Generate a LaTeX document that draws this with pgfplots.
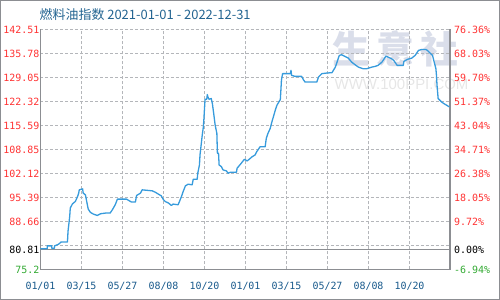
\documentclass[border=0pt]{standalone}
\usepackage{pgfplots}
\pgfplotsset{compat=1.18}
\usepackage{fontspec}
\setmainfont{Liberation Sans}
\newfontfamily\cjk{Noto Sans CJK SC}
\newfontfamily\monof{DejaVu Sans Mono}
\definecolor{titleblue}{RGB}{35,100,145}
\definecolor{xlabblue}{RGB}{25,90,140}
\definecolor{tred}{RGB}{255,51,51}
\definecolor{tgreen}{RGB}{51,170,51}
\definecolor{axgray}{RGB}{140,142,146}
\definecolor{gridgray}{RGB}{180,182,186}
\definecolor{linecol}{RGB}{55,155,220}
\definecolor{wmark}{RGB}{218,222,234}
\definecolor{wmark2}{RGB}{230,230,230}
\begin{document}
\begin{tikzpicture}
\useasboundingbox (-40.5bp,-30.5bp) rectangle (459.5bp,269.5bp);
\draw[draw=axgray, line width=1.4bp] (-39.8bp,-29.8bp) rectangle (458.8bp,268.8bp);
\node[anchor=west, text=titleblue, font=\cjk\fontsize{13}{13}\selectfont, inner sep=0pt] at (-1bp,255bp) {燃料油指数 2021-01-01 - 2022-12-31};
% watermark (axis box lower-left is the origin)
\node[text=wmark, font=\cjk\fontsize{38}{38}\selectfont\bfseries, inner sep=0pt] at (355bp,221bp) {生\hspace{6bp}意\hspace{6bp}社};
\node[text=wmark2, font=\fontsize{15}{15}\selectfont, inner sep=0pt, anchor=west] at (294bp,185bp) {WWW.100PPI.COM};
\begin{axis}[
  width=409.44bp, height=240bp, scale only axis,
  xmin=0, xmax=729, ymin=75.2, ymax=142.51,
  axis line style={draw=none},
  major tick length=0pt, minor tick num=0,
  xtick={0,73,146,219,292,365,438,511,584,657},
  xticklabels={01/01,03/15,05/27,08/08,10/20,01/01,03/15,05/27,08/08,10/20},
  xticklabel style={text=xlabblue, font=\monof\fontsize{10}{10}\selectfont, anchor=center, yshift=-17bp},
  ytick={75.2,80.81,88.66,95.39,102.12,108.85,115.59,122.32,129.05,135.78,142.51},
  yticklabels={\textcolor{tgreen}{75.2},\textcolor{black}{80.81},88.66,95.39,102.12,108.85,115.59,122.32,129.05,135.78,142.51},
  yticklabel style={text=tred, font=\monof\fontsize{10}{10}\selectfont, inner xsep=1bp},
  unbounded coords=jump,
  clip=false,
]
% dashed grid
\addplot[forget plot, gridgray, line width=1.3bp, dash pattern=on 3bp off 2bp] coordinates {
(73,75.2)(73,142.51) (nan,nan) (146,75.2)(146,142.51) (nan,nan) (219,75.2)(219,142.51) (nan,nan)
(292,75.2)(292,142.51) (nan,nan) (365,75.2)(365,142.51) (nan,nan) (438,75.2)(438,142.51) (nan,nan)
(511,75.2)(511,142.51) (nan,nan) (584,75.2)(584,142.51) (nan,nan) (657,75.2)(657,142.51) (nan,nan)
(0,81.93)(729,81.93) (nan,nan) (0,88.66)(729,88.66) (nan,nan) (0,95.39)(729,95.39) (nan,nan)
(0,102.12)(729,102.12) (nan,nan) (0,108.85)(729,108.85) (nan,nan) (0,115.59)(729,115.59) (nan,nan)
(0,122.32)(729,122.32) (nan,nan) (0,129.05)(729,129.05) (nan,nan) (0,135.78)(729,135.78) (nan,nan)
(0,142.51)(729,142.51)
};
% base line (index base 80.81) and axis frame
\addplot[forget plot, axgray, line width=1.4bp] coordinates {(0,80.81)(729,80.81)};
\addplot[forget plot, axgray, line width=1.4bp] coordinates {(0,142.51)(0,75.2)(729,75.2)(729,142.51)};
\addplot[linecol, line width=1.3bp, line join=round] coordinates {
(0,81.0)(12,81.0)(12,81.82)(20,81.82)(20,81.15)(25,81.15)(25,81.82)(32,82.27)(37,82.94)(48,82.94)
(49,85.9)(50,87.29)(52,90.08)(53,92.43)(57,93.63)(62,94.27)(66,95.67)(68,96.62)(69,97.54)(75,97.82)
(76,96.62)(80,96.14)(84,92.88)(85,92.15)(89,91.20)(94,90.75)(101,90.36)(107,90.84)(116,91.03)(124,91.03)
(128,91.96)(133,93.35)(137,94.94)(153,94.94)(162,94.11)(169,94.11)(171,95.95)(178,96.62)(181,97.54)(199,97.26)
(204,96.90)(210,96.34)(215,95.86)(219,94.75)(222,94.27)(228,93.83)(233,93.16)(236,93.55)(245,93.35)(247,94.11)
(251,95.67)(254,97.06)(258,98.66)(263,99.13)(270,98.94)(272,100.53)(279,100.53)(280,102.20)(283,104.52)(284,107.31)
(286,110.11)(288,112.90)(290,115.22)(291,117.56)(292,120.35)(293,122.95)(296,122.95)(297,124.26)(298,123.6)(300,122.95)
(304,123.15)(306,121.75)(308,119.41)(311,115.69)(314,113.37)(315,107.79)(317,107.79)(318,104.52)(322,104.05)(325,103.13)
(331,102.85)(334,102.20)(338,102.48)(349,102.48)(350,103.60)(356,104.72)(363,106.11)(368,105.64)(377,106.84)(382,107.31)
(385,108.24)(391,109.63)(400,109.63)(402,111.98)(405,113.37)(409,114.77)(412,116.61)(415,118.20)(418,119.88)(421,121.28)
(427,122.87)(428,125.47)(429,128.26)(431,130.13)(445,130.13)(446,131.05)(447,129.65)(453,129.37)(465,129.37)(468,128.45)
(471,127.78)(492,127.78)(495,129.18)(501,130.13)(510,130.30)(519,130.41)(525,131.97)(529,133.84)(532,135.24)(536,135.43)
(542,134.96)(548,134.49)(554,133.37)(560,132.64)(566,131.97)(574,131.52)(581,131.52)(590,131.97)(596,132.17)(601,132.45)
(608,133.37)(612,134.32)(615,135.04)(619,134.76)(625,134.32)(629,133.84)(635,132.45)(646,132.45)(647,133.56)(653,134.12)
(661,134.49)(667,135.24)(673,136.64)(679,136.91)(686,136.91)(689,136.64)(693,136.0)(698,135.24)(701,133.37)(704,131.52)
(705,129.65)(706,126.86)(708,123.15)(714,122.20)(718,121.75)(723,121.28)(728,120.80)
};
\end{axis}
\begin{axis}[
  width=409.44bp, height=240bp, scale only axis,
  xmin=0, xmax=729, ymin=-6.94, ymax=76.36,
  axis line style={draw=none},
  major tick length=0pt,
  hide x axis,
  yticklabel pos=right,
  ytick={-6.94,0,9.72,18.05,26.38,34.71,43.04,51.37,59.70,68.03,76.36},
  yticklabels={\textcolor{tgreen}{-6.94\%},\textcolor{black}{0.00\%},9.72\%,18.05\%,26.38\%,34.71\%,43.04\%,51.37\%,59.70\%,68.03\%,76.36\%},
  yticklabel style={text=tred, font=\monof\fontsize{10}{10}\selectfont, anchor=west, inner xsep=0pt, xshift=4bp},
]
\end{axis}
\end{tikzpicture}
\end{document}
